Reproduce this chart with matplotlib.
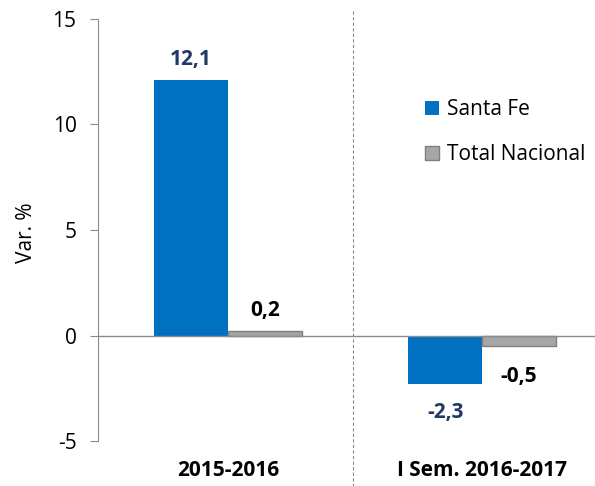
import matplotlib.pyplot as plt
import numpy as np

plt.rcParams['font.family'] = ['Open Sans', 'DejaVu Sans']

periods = ["2015-2016", "I Sem. 2016-2017"]
santa_fe = [12.1, -2.3]
total_nacional = [0.2, -0.5]
series_names = ["Santa Fe", "Total Nacional"]

blue = '#0070C0'
grey = '#A6A6A6'
navy = '#1F3864'
fs = 15

fig = plt.figure(figsize=(5.95, 4.86), dpi=100)
ax = fig.add_axes([98 / 595, 45 / 486, 497 / 595, 422 / 486])

x = np.arange(len(periods))
w = 0.29
ax.bar(x - w / 2, santa_fe, w, color=blue, label=series_names[0], zorder=2)
ax.bar(x + w / 2, total_nacional, w, color=grey, edgecolor='#7F7F7F',
       linewidth=1, label=series_names[1], zorder=2)

ax.set_xlim(-0.512, 1.445)
ax.set_ylim(-5, 15)
ax.set_yticks([-5, 0, 5, 10, 15])
ax.set_yticklabels(['-5', '0', '5', '10', '15'], fontsize=fs)
ax.set_xticks([])

for s in ['top', 'right', 'bottom']:
    ax.spines[s].set_visible(False)
ax.spines['left'].set_color('#8C8C8C')
ax.tick_params(axis='y', direction='out', length=5.5, color='#8C8C8C', pad=10)
ax.axhline(0, color='#8C8C8C', lw=1, zorder=3)

# dashed separator between the periods
ax.plot([0.492, 0.492], [1.02, -0.11], transform=ax.get_xaxis_transform(),
        color='#8C8C8C', lw=0.8, ls=(0, (3, 2)), clip_on=False)


def fmt(v):
    return f"{v:.1f}".replace('.', ',')


# value labels
for i, v in enumerate(santa_fe):
    if v > 0:
        ax.text(x[i] - w / 2, v + 0.5, fmt(v), ha='center', va='bottom',
                fontsize=fs, fontweight='bold', color=navy)
    else:
        ax.text(x[i] - w / 2, v - 0.85, fmt(v), ha='center', va='top',
                fontsize=fs, fontweight='bold', color=navy)
for i, v in enumerate(total_nacional):
    if v > 0:
        ax.text(x[i] + w / 2, v + 0.5, fmt(v), ha='center', va='bottom',
                fontsize=fs, fontweight='bold', color='black')
    else:
        ax.text(x[i] + w / 2, v - 0.95, fmt(v), ha='center', va='top',
                fontsize=fs, fontweight='bold', color='black')

for i, p in enumerate(periods):
    ax.text(x[i], -6.4, p, ha='center', va='center', fontsize=fs, fontweight='bold')

fig.text(27 / 595, 1 - 233 / 486, "Var. %", rotation=90, ha='center', va='center',
         fontsize=fs)

ax.legend(loc='upper left', bbox_to_anchor=(0.62, 0.855), frameon=False, fontsize=fs,
          handlelength=0.67, handleheight=0.67, labelspacing=1.15, handletextpad=0.4)

fig.savefig('out.png', dpi=100)
